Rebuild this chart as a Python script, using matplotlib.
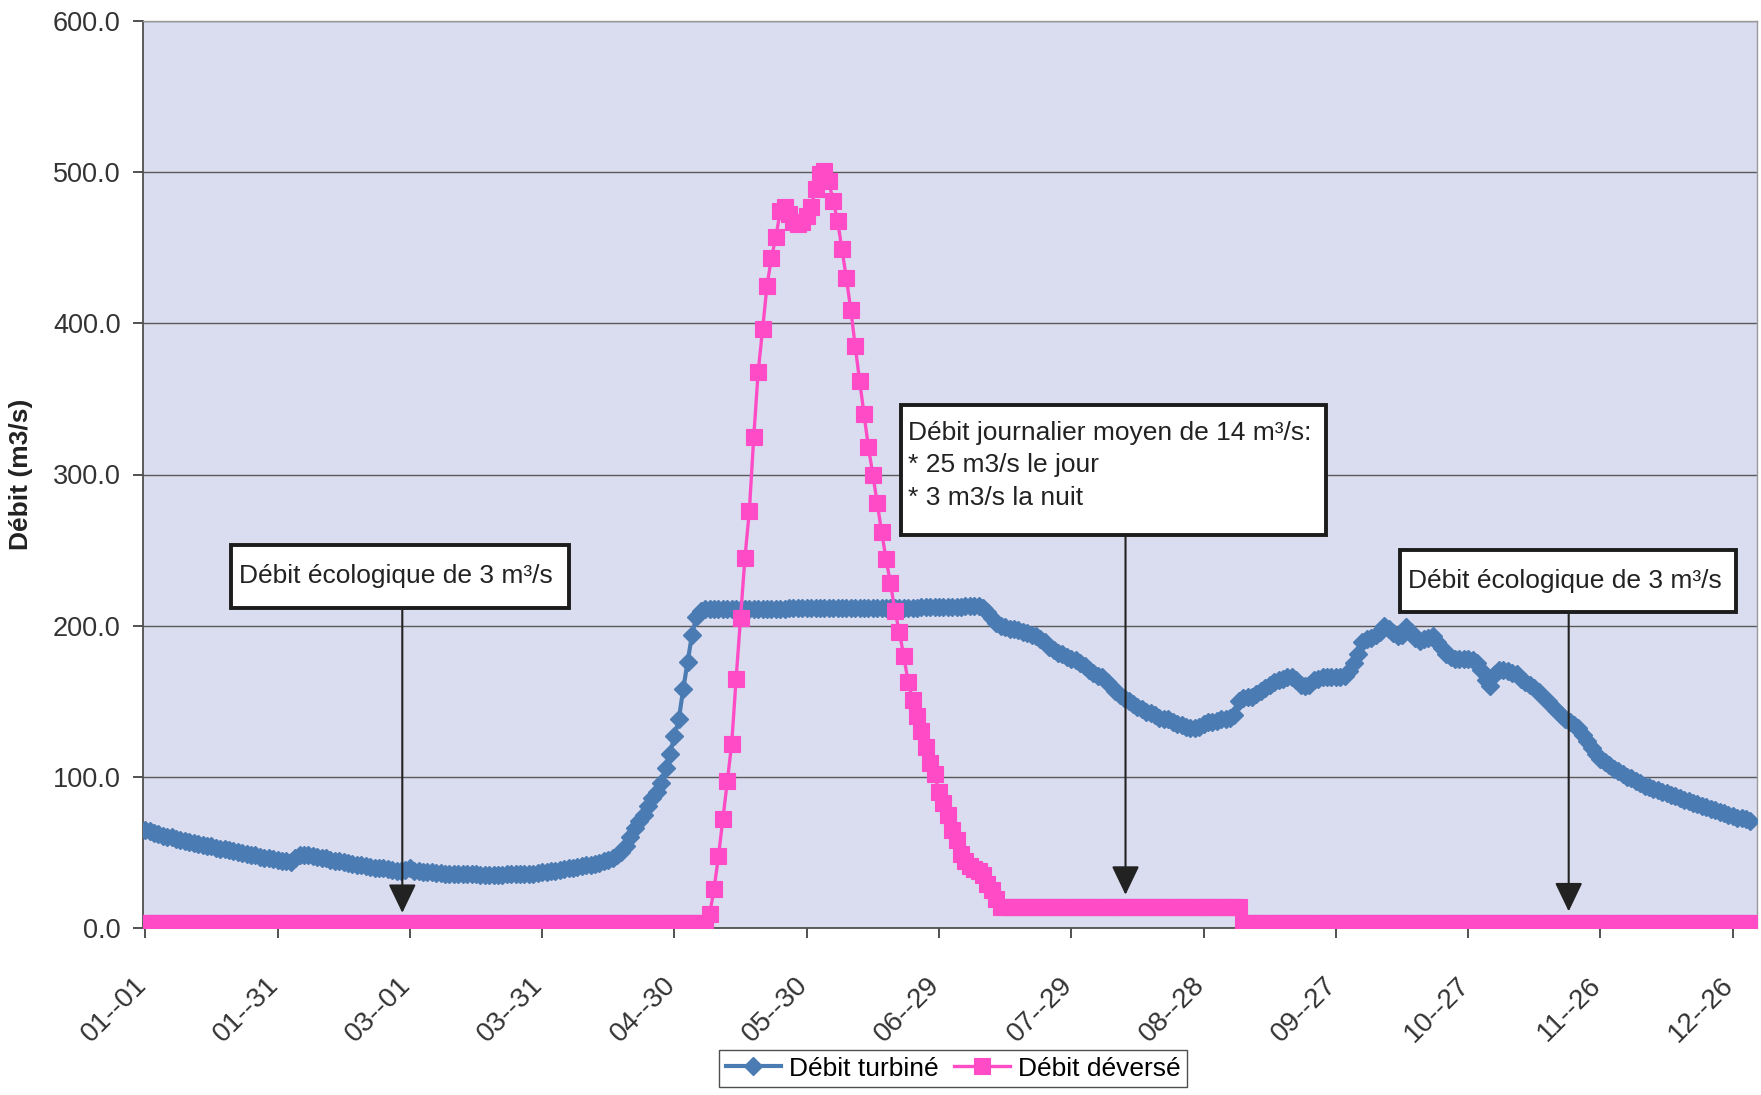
import numpy as np
import matplotlib
matplotlib.use('Agg')
import matplotlib.pyplot as plt
from matplotlib.patches import Rectangle
from matplotlib.transforms import ScaledTranslation

plt.rcParams['font.family'] = ['Liberation Sans', 'DejaVu Sans']

# daily values, 01-01 to 12-31 (leap year, 366 days)
turbine_jan_feb = [65, 64, 63, 62, 61, 60.5, 60, 59, 58, 57.5,
                   57, 56, 55.5, 55, 54.5, 54, 53, 52.5, 52, 51.5,
                   51, 50, 49.5, 49, 48.5, 48, 47, 46.5, 46, 45.5,
                   45, 44.5, 44, 43.5, 46, 48.5, 48.5, 48, 47.5, 47,
                   46.5, 46, 45, 44.5, 44, 43.5, 43, 42.5, 42, 41.5,
                   41, 40.5, 40, 40, 39.5, 39, 38.5, 38, 38, 38.5]
turbine_mar_apr = [40, 38, 37.5, 37, 37, 37, 36.5, 36.5, 36, 36,
                   36, 36, 35.5, 35.5, 35.5, 35.5, 35, 35, 35, 35,
                   35, 35, 35.5, 35.5, 35.5, 35.5, 36, 36, 36, 36.5,
                   37, 37, 37.5, 38, 38.5, 39, 39.5, 40, 40.5, 41,
                   41.5, 42, 42.5, 43, 44, 45, 46.5, 48, 50, 54,
                   60, 66, 71, 75, 81, 86, 90, 96, 106, 115,
                   127, 138, 158, 176, 194, 206]
turbine_plateau = [210, 211, 211, 211, 211, 211, 211, 211, 211, 211,
                   211, 211, 211, 211, 211, 211, 211, 211, 211, 211,
                   211.5, 211.5, 211.5, 211.5, 211.5, 211.5, 211.5, 211.5, 211.5, 211.5,
                   212, 212, 212, 212, 212, 212, 212, 212, 212, 212,
                   212, 212, 212, 212, 212, 212, 212, 212, 212, 212,
                   212.5, 212.5, 212.5, 212.5, 212.5, 212.5, 212.5, 212.5, 212.5, 212.5,
                   213, 213, 213, 213, 212]
turbine_summer = [209, 205, 202, 200, 199, 198, 197.5, 197, 196, 195,
                  194, 193, 191, 189, 186, 184, 182, 181, 179, 178,
                  177, 175, 173, 171, 169, 167,
                  166, 163, 160, 157, 154, 152, 150, 148, 146, 145,
                  143, 142, 141, 139, 138, 138, 136, 135, 134, 133,
                  132, 132, 133, 135, 136, 136, 137, 138, 138, 139,
                  141, 150, 152, 153, 153, 155, 157, 159, 161, 163,
                  164, 165, 166, 166, 164, 161, 160, 161, 164, 165,
                  166, 166, 166, 166, 166, 167, 170, 175, 181, 189,
                  191, 192, 194, 196, 200, 198, 195, 193, 194, 199,
                  196, 192, 190, 191, 192, 193, 189, 185, 181, 179]
turbine_autumn = [178, 178, 178, 178, 177, 175, 171, 164, 160, 168,
                  171, 171, 170, 169, 168, 165, 163, 161, 159, 156,
                  153, 150, 147, 144, 141, 138, 136, 134, 132, 128,
                  124, 119, 115, 112, 110, 108, 105, 104, 102, 100,
                  99, 97, 96, 94, 93, 92, 91, 90, 89, 88,
                  87, 86, 85, 84, 83, 82, 81, 80, 79, 78,
                  77, 76, 75, 74, 73, 73, 72, 71]
debit_turbine = (turbine_jan_feb + turbine_mar_apr + turbine_plateau
                 + turbine_summer + turbine_autumn)

# spilled flow
deverse_hiver = [3.0] * 128
deverse_crue = [9, 26, 47.5, 72, 97, 122, 165, 205, 245, 276,
                325, 368, 396, 425, 443, 457, 474, 477, 472, 467,
                466, 467, 471, 477, 489, 499, 501, 494, 481, 468,
                449, 430, 409, 385, 362, 340, 318, 300, 281, 262,
                244, 228, 210, 196, 180, 163, 151, 140, 130, 120,
                109, 102, 90, 83, 75, 65, 58, 49, 44, 41,
                39, 37.5, 35, 29, 25, 19]
deverse_ete = [14.0] * 55
deverse_automne = [3.0] * 117
debit_deverse = deverse_hiver + deverse_crue + deverse_ete + deverse_automne

tick_labels = ['01--01', '01--31', '03--01', '03--31', '04--30', '05--30', '06--29',
               '07--29', '08--28', '09--27', '10--27', '11--26', '12--26']

days = np.arange(len(debit_turbine))
days2 = np.arange(len(debit_deverse))

fig = plt.figure(figsize=(17.61, 10.95), dpi=100)
ax = fig.add_axes([143 / 1761, 1 - 928 / 1095, (1757 - 143) / 1761, (928 - 21) / 1095])
ax.set_facecolor('#dadcef')

blue = '#4b7bb3'
pink = '#ff4cc6'
ax.plot(days, debit_turbine, color=blue, lw=3, marker='D', ms=9.2,
        mec=blue, mfc=blue, mew=1, label='Débit turbiné', zorder=3)
ax.plot(days2, debit_deverse, color=pink, lw=2.4, marker='s', ms=12,
        mec=pink, mfc=pink, mew=0.8, label='Débit déversé', zorder=4)

ax.set_xlim(-0.5, 365.5)
ax.set_ylim(0, 600)
ax.set_yticks(np.arange(0, 601, 100))
ax.set_yticklabels([f'{v:.1f}' for v in range(0, 601, 100)])
ax.set_xticks(np.arange(0, 361, 30))
ax.set_xticklabels(tick_labels, rotation=45, ha='right', va='top',
                   rotation_mode='anchor')
ax.tick_params(axis='both', colors='#333333', length=7, width=1.2)
ax.tick_params(axis='x', pad=14, labelsize=20)
ax.tick_params(axis='y', pad=9, labelsize=19.5)
shift = ScaledTranslation(-12 / 100, -15 / 100, fig.dpi_scale_trans)
for lab in ax.get_xticklabels():
    lab.set_transform(lab.get_transform() + shift)
ax.yaxis.grid(True, color='#5a5a5a', lw=1.0)
ax.set_axisbelow(True)
for s in ['left', 'bottom']:
    ax.spines[s].set_color('#505050')
    ax.spines[s].set_linewidth(1.3)
for s in ['top', 'right']:
    ax.spines[s].set_color('#9a9a9a')
    ax.spines[s].set_linewidth(1.0)

ax.set_ylabel('Débit (m3/s)', fontsize=19, fontweight='bold', color='#222222', labelpad=14)


def note_box(x0, x1, y0, y1, text, tx, ty, xa, ya, linespacing=1.2):
    ax.add_patch(Rectangle((x0, y0), x1 - x0, y1 - y0, facecolor='white',
                           edgecolor='#1c1c1c', lw=2.8, zorder=6))
    ax.text(tx, ty, text, fontsize=19, color='#222222', ha='left', va='center',
            linespacing=linespacing, zorder=7)
    ax.annotate('', xy=(xa, ya), xytext=(xa, y0),
                arrowprops=dict(arrowstyle='-|>,head_length=0.5,head_width=0.24',
                                color='#222222', lw=1.5, mutation_scale=36,
                                shrinkA=0, shrinkB=0), zorder=6)


note_box(19.5, 96.0, 211.8, 253.6, 'Débit écologique de 3 m³/s',
         21.3, 233, 58.3, 10)
note_box(171.5, 267.7, 260, 346,
         'Débit journalier moyen de 14 m³/s:\n* 25 m3/s le jour\n* 3 m3/s la nuit',
         172.9, 306, 222.3, 22, linespacing=1.45)
note_box(284.5, 360.7, 209, 250, 'Débit écologique de 3 m³/s',
         286.3, 229.5, 322.8, 11)

leg = fig.legend(loc='upper center', bbox_to_anchor=(953 / 1761, 1 - 1050 / 1095),
                 ncol=2, fontsize=19, frameon=True, fancybox=False,
                 edgecolor='#222222', handlelength=2.1, columnspacing=0.6,
                 handletextpad=0.3, borderpad=0.25, borderaxespad=0)
leg.get_frame().set_linewidth(1.0)

fig.savefig('out.png', dpi=100, facecolor='white')
